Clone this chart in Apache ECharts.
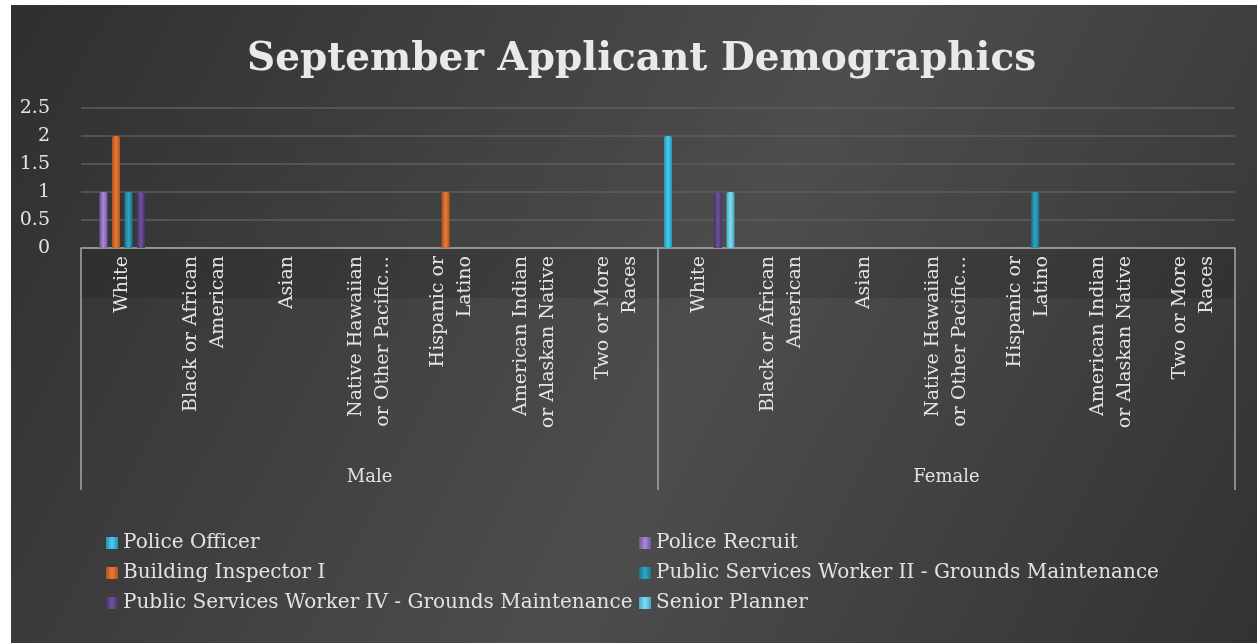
<!DOCTYPE html>
<html>
<head>
<meta charset="utf-8">
<script src="https://cdn.jsdelivr.net/npm/echarts@6/dist/echarts.min.js"></script>
<style>
html, body { margin:0; padding:0; background:#fff; }
#chart { width:1257px; height:643px; }
</style>
</head>
<body>
<div id="chart"></div>
<script>
var races = ['White', 'Black or African\nAmerican', 'Asian', 'Native Hawaiian\nor Other Pacific\u2026',
    'Hispanic or\nLatino', 'American Indian\nor Alaskan Native', 'Two or More\nRaces'];
var genders = ['Male', 'Female'];
var categories = races.concat(races);
var yTicks = { min: 0, max: 2.5, interval: 0.5 };

// Male (7) then Female (7)
var policeOfficer     = [0,0,0,0,0,0,0, 2,0,0,0,0,0,0];
var policeRecruit     = [1,0,0,0,0,0,0, 0,0,0,0,0,0,0];
var buildingInspector = [2,0,0,0,1,0,0, 0,0,0,0,0,0,0];
var pswII             = [1,0,0,0,0,0,0, 0,0,0,0,1,0,0];
var pswIV             = [1,0,0,0,0,0,0, 1,0,0,0,0,0,0];
var seniorPlanner     = [0,0,0,0,0,0,0, 1,0,0,0,0,0,0];

var seriesNames = ['Police Officer', 'Police Recruit', 'Building Inspector I',
    'Public Services Worker II - Grounds Maintenance',
    'Public Services Worker IV - Grounds Maintenance', 'Senior Planner'];
var seriesData = [policeOfficer, policeRecruit, buildingInspector, pswII, pswIV, seniorPlanner];
var colors = [['#1d98bb','#52cbe8'], ['#75539f','#a98ad2'], ['#b54f17','#e47d38'],
    ['#157590','#34a6c0'], ['#46306b','#6f5598'], ['#3dabc8','#8ad9ec']];

var font = '"DejaVu Serif", serif';
var txt = '#e2e2e2';

function grad(c) {
    return new echarts.graphic.LinearGradient(0, 0, 1, 0, [
        { offset: 0, color: c[0] }, { offset: 0.5, color: c[1] }, { offset: 1, color: c[0] }
    ]);
}

var chart = echarts.init(document.getElementById('chart'));

var series = seriesNames.map(function (name, i) {
    return {
        name: name,
        type: 'bar',
        xAxisIndex: 0,
        data: seriesData[i],
        barWidth: 8,
        barGap: '56%',
        itemStyle: { color: grad(colors[i]), borderRadius: [2, 2, 0, 0] }
    };
});

var legendText = { fontFamily: font, fontSize: 20, lineHeight: 20, color: txt };

var option = {
    backgroundColor: '#fff',
    textStyle: { fontFamily: font },
    graphic: [
        {
            type: 'rect', left: 11, top: 5, z: -10,
            shape: { width: 1246, height: 638 },
            style: {
                fill: new echarts.graphic.LinearGradient(0, 0, 1, 1, [
                    { offset: 0, color: '#2f2f2f' },
                    { offset: 0.55, color: '#4d4d4d' },
                    { offset: 1, color: '#323232' }
                ])
            }
        },
        {
            type: 'rect', left: 81, top: 248, z: -9,
            shape: { width: 1154, height: 50 },
            style: { fill: 'rgba(0,0,0,0.12)' }
        }
    ],
    title: {
        text: 'September Applicant Demographics',
        left: 242,
        top: 35,
        textStyle: { fontFamily: font, fontWeight: 'bold', fontSize: 39, color: '#e9e9e9' }
    },
    grid: { left: 81, right: 22, top: 108, bottom: 395, containLabel: false },
    legend: [
        {
            orient: 'vertical', left: 101, top: 528, itemGap: 10,
            itemWidth: 12, itemHeight: 12, icon: 'rect',
            data: [seriesNames[0], seriesNames[2], seriesNames[4]],
            textStyle: legendText
        },
        {
            orient: 'vertical', left: 634, top: 528, itemGap: 10,
            itemWidth: 12, itemHeight: 12, icon: 'rect',
            data: [seriesNames[1], seriesNames[3], seriesNames[5]],
            textStyle: legendText
        }
    ],
    xAxis: [
        {
            type: 'category',
            data: categories,
            axisLine: { show: true, lineStyle: { color: '#a8a8a8', width: 1.5 } },
            axisTick: { show: false },
            axisLabel: {
                interval: 0, rotate: 90, margin: 8,
                fontFamily: font, fontSize: 19, lineHeight: 27, color: txt
            }
        },
        {
            type: 'category',
            data: genders,
            position: 'bottom',
            offset: 242,
            axisLine: { show: false },
            axisTick: { show: true, inside: true, length: 242, interval: 0,
                lineStyle: { color: '#a8a8a8', width: 1.5 } },
            axisLabel: { inside: true, margin: 4, fontFamily: font, fontSize: 18, color: txt }
        }
    ],
    yAxis: {
        type: 'value',
        min: yTicks.min, max: yTicks.max, interval: yTicks.interval,
        axisLine: { show: false },
        axisTick: { show: false },
        axisLabel: { margin: 31, fontFamily: font, fontSize: 19, color: txt },
        splitLine: { lineStyle: { color: '#5e5e5e', width: 1.5 } }
    },
    series: series
};

chart.setOption(option);
</script>
</body>
</html>
